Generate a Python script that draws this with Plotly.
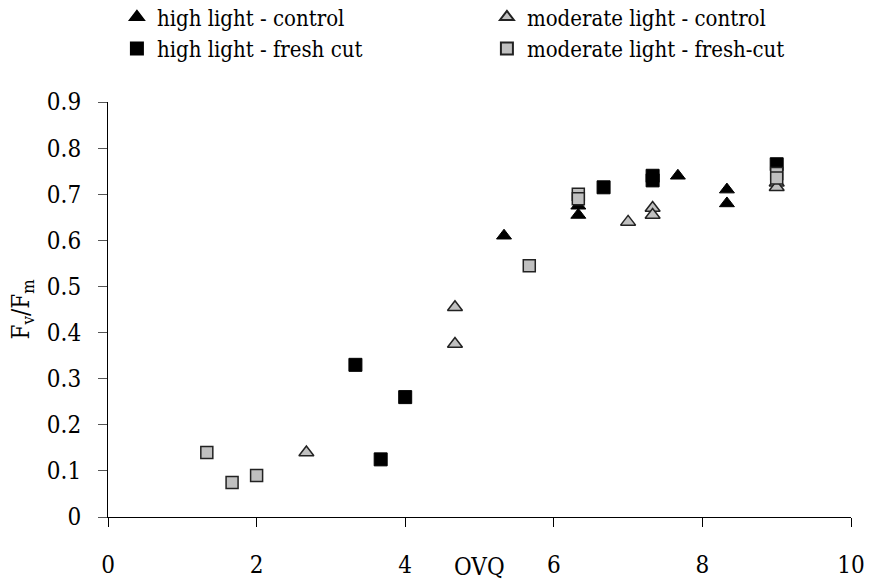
import plotly.graph_objects as go

# ---- data ----
hl_control_x = [5.33, 6.33, 6.33, 7.67, 8.33, 8.33]
hl_control_y = [0.61, 0.675, 0.655, 0.74, 0.71, 0.68]

ml_control_x = [2.67, 4.67, 4.67, 7.0, 7.33, 7.33, 9.0, 9.0]
ml_control_y = [0.14, 0.455, 0.375, 0.64, 0.67, 0.655, 0.725, 0.715]

hl_fresh_x = [3.33, 3.67, 4.0, 6.67, 7.33, 7.33, 9.0]
hl_fresh_y = [0.33, 0.125, 0.26, 0.715, 0.74, 0.73, 0.765]

ml_fresh_x = [1.33, 1.67, 2.0, 5.67, 6.33, 6.33, 9.0, 9.0]
ml_fresh_y = [0.14, 0.075, 0.09, 0.545, 0.70, 0.69, 0.745, 0.735]

x_ticks = [0, 2, 4, 6, 8, 10]
y_ticks = [0, 0.1, 0.2, 0.3, 0.4, 0.5, 0.6, 0.7, 0.8, 0.9]

FONT = "DejaVu Serif Condensed, DejaVu Serif, serif"
GRAY = "#c0c0c0"

fig = go.Figure()
fig.add_trace(go.Scatter(x=hl_control_x, y=hl_control_y, mode="markers",
                         name="high light - control",
                         marker=dict(symbol="triangle-up", size=13, color="black",
                                     line=dict(color="black", width=1))))
fig.add_trace(go.Scatter(x=ml_control_x, y=ml_control_y, mode="markers",
                         name="moderate light - control",
                         marker=dict(symbol="triangle-up", size=13, color=GRAY,
                                     line=dict(color="#222222", width=1.5))))
fig.add_trace(go.Scatter(x=hl_fresh_x, y=hl_fresh_y, mode="markers",
                         name="high light - fresh cut",
                         marker=dict(symbol="square", size=13, color="black",
                                     line=dict(color="black", width=1))))
fig.add_trace(go.Scatter(x=ml_fresh_x, y=ml_fresh_y, mode="markers",
                         name="moderate light - fresh-cut",
                         marker=dict(symbol="square", size=12, color=GRAY,
                                     line=dict(color="#222222", width=1.5))))

fig.update_layout(
    width=871, height=580,
    margin=dict(l=108, r=20, t=102, b=63, autoexpand=False),
    paper_bgcolor="white", plot_bgcolor="white",
    font=dict(family=FONT, size=24, color="black"),
    showlegend=True,
    legend=dict(orientation="h", x=0.012, xanchor="left", y=1.255, yanchor="top",
                entrywidth=325, entrywidthmode="pixels",
                font=dict(family=FONT, size=22, color="black"),
                itemsizing="constant", tracegroupgap=0,
                bgcolor="rgba(0,0,0,0)"),
    xaxis=dict(range=[0, 10], tickvals=x_ticks, showgrid=False, zeroline=False,
               showline=True, linecolor="black", linewidth=1,
               ticks="outside", ticklen=9, tickcolor="black",
               ticklabelstandoff=17,
               tickfont=dict(family=FONT, size=24, color="black")),
    yaxis=dict(range=[0, 0.9], tickvals=y_ticks,
               showgrid=False, zeroline=False,
               showline=True, linecolor="black", linewidth=1,
               ticks="outside", ticklen=9, tickcolor="#555555",
               ticklabelstandoff=12,
               tickfont=dict(family=FONT, size=24, color="black"),
               title=dict(text="F<sub>v</sub>/F<sub>m</sub>", standoff=10,
                          font=dict(family=FONT, size=24, color="black"))),
    annotations=[dict(text="OVQ", xref="paper", yref="paper", x=0.5, y=-0.12,
                      xanchor="center", yanchor="middle", showarrow=False,
                      font=dict(family=FONT, size=24, color="black"))],
)

fig.write_html("out.html")
